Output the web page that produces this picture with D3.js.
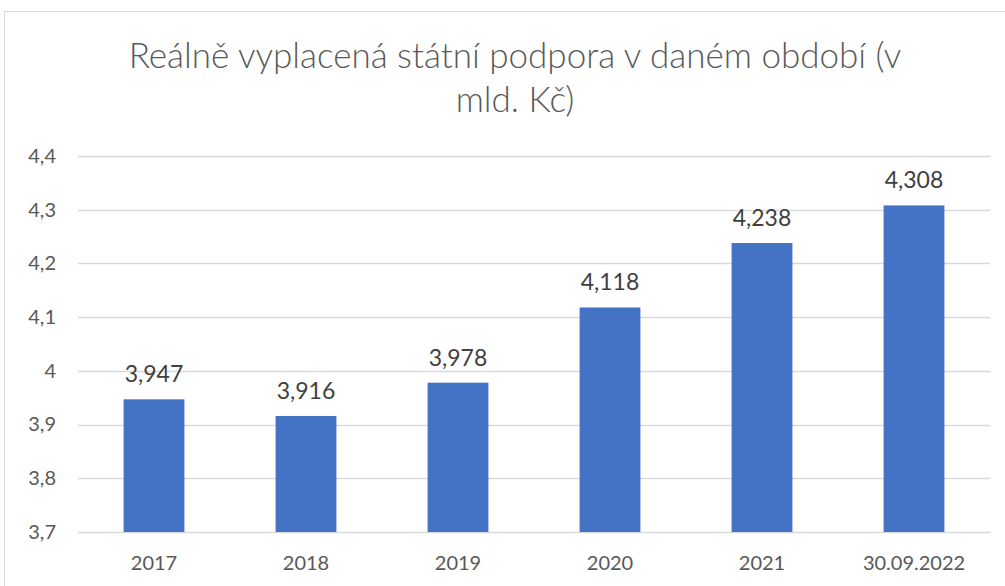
<!DOCTYPE html>
<html>
<head>
<meta charset="utf-8">
<script src="https://cdn.jsdelivr.net/npm/d3@7"></script>
<style>
  body { margin: 0; background: #fff; }
  svg { display: block; font-family: Lato, "Open Sans", sans-serif; }
</style>
</head>
<body>
<svg width="1005" height="586"></svg>
<script>
// data
var categories = ['2017', '2018', '2019', '2020', '2021', '30.09.2022'];
var values = [3.947, 3.916, 3.978, 4.118, 4.238, 4.308];
var yTicks = [3.7, 3.8, 3.9, 4.0, 4.1, 4.2, 4.3, 4.4];
var titleLines = ['Reálně vyplacená státní podpora v daném období (v', 'mld. Kč)'];

function main() {
	var svg = d3.select('svg'),
	width = +svg.attr('width'),
	height = +svg.attr('height');

	var czech = d3.formatLocale({decimal: ',', thousands: ' ', grouping: [3], currency: ['', ' Kč']});
	var fmtTick = function(d) { return czech.format('~g')(+d.toFixed(1)); };
	var fmtVal = czech.format('.3f');

	var data = categories.map(function(c, i) { return {cat: c, val: values[i]}; });

	var left = 78, right = 990, top = 156, bottom = 532;

	// chart area border
	svg.append('rect')
		.attr('x', 4.5).attr('y', 11.5)
		.attr('width', width + 10).attr('height', height + 10)
		.attr('fill', 'none')
		.attr('stroke', '#d9d9d9');

	var x = d3.scaleBand()
		.domain(categories)
		.range([left, right])
		.paddingInner(0.6)
		.paddingOuter(0.3);

	var y = d3.scaleLinear()
		.domain([3.7, 4.4])
		.range([bottom, top]);

	// gridlines
	svg.append('g')
		.selectAll('line')
		.data(yTicks)
		.enter().append('line')
		.attr('x1', left).attr('x2', right)
		.attr('y1', function(d) { return Math.round(y(d)) + 0.5; })
		.attr('y2', function(d) { return Math.round(y(d)) + 0.5; })
		.attr('stroke', '#d9d9d9')
		.attr('stroke-width', 1.5);

	// y axis labels
	var yAxis = d3.axisLeft(y).tickValues(yTicks).tickFormat(fmtTick).tickSize(0).tickPadding(0);
	var yg = svg.append('g')
		.attr('transform', 'translate(56,0)')
		.call(yAxis);
	yg.select('.domain').remove();
	yg.selectAll('text')
		.attr('fill', '#595959')
		.style('font-size', '20px')
		.style('font-family', 'Lato, sans-serif');

	// x axis labels
	var xAxis = d3.axisBottom(x).tickSize(0).tickPadding(0);
	var xg = svg.append('g')
		.attr('transform', 'translate(0,' + bottom + ')')
		.call(xAxis);
	xg.select('.domain').remove();
	xg.selectAll('text')
		.attr('dy', null)
		.attr('y', 38)
		.attr('fill', '#595959')
		.style('font-size', '20px')
		.style('font-family', 'Lato, sans-serif');

	// bars
	svg.append('g')
		.selectAll('rect')
		.data(data)
		.enter().append('rect')
		.attr('x', function(d) { return x(d.cat); })
		.attr('y', function(d) { return y(d.val); })
		.attr('width', x.bandwidth())
		.attr('height', function(d) { return bottom - y(d.val); })
		.attr('fill', '#4472C4');

	// value labels
	svg.append('g')
		.selectAll('text')
		.data(data)
		.enter().append('text')
		.attr('x', function(d) { return x(d.cat) + x.bandwidth() / 2; })
		.attr('y', function(d) { return y(d.val) - 17; })
		.attr('text-anchor', 'middle')
		.attr('fill', '#404040')
		.style('font-size', '23px')
		.text(function(d) { return fmtVal(d.val); });

	// title
	svg.append('g')
		.selectAll('text')
		.data(titleLines)
		.enter().append('text')
		.attr('x', 515)
		.attr('y', function(d, i) { return 68 + i * 44; })
		.attr('text-anchor', 'middle')
		.attr('fill', '#595959')
		.style('font-size', '35px')
		.style('font-weight', 300)
		.text(function(d) { return d; });
}
main();
</script>
</body>
</html>
